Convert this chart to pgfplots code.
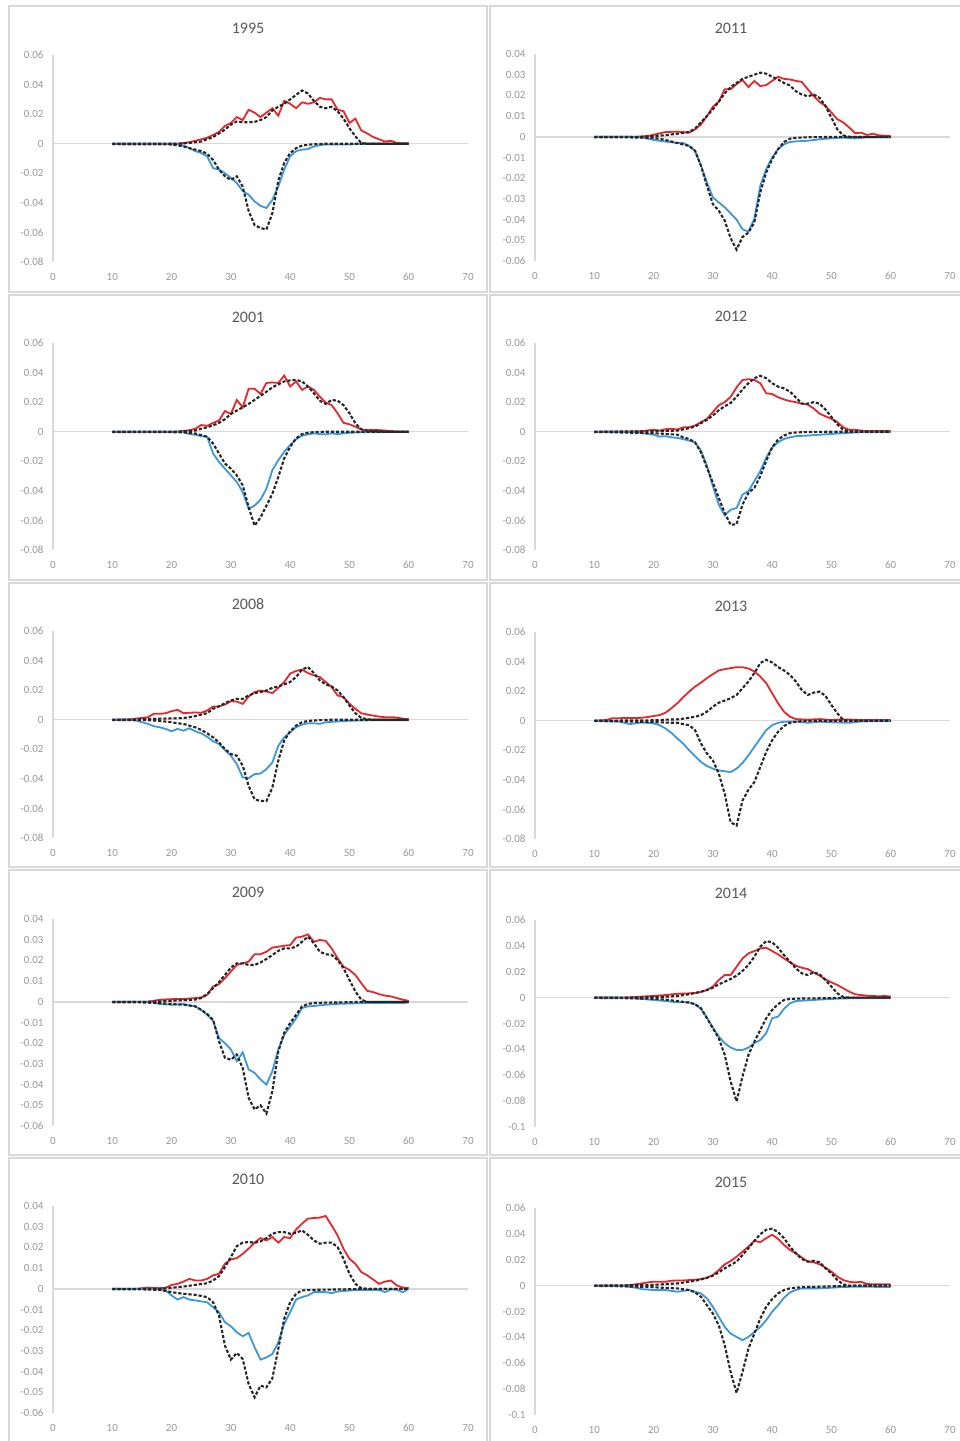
\documentclass[border=0pt]{standalone}
\usepackage{fontspec}
\setmainfont{Carlito}
\usepackage{pgfplots}
\pgfplotsset{compat=1.18}
\definecolor{redline}{HTML}{E5282C}
\definecolor{blueline}{HTML}{3C98DE}
\definecolor{axgray}{HTML}{D9D9D9}
\definecolor{ticklab}{HTML}{999999}
\definecolor{titlegray}{HTML}{595959}
\pgfplotsset{
  panel/.style={
    scale only axis, width=415pt, height=207pt, anchor=north west,
    xmin=0, xmax=70, xtick={0,10,20,30,40,50,60,70},
    axis x line*=bottom, axis y line*=left,
    x axis line style={draw=none},
    y axis line style={draw=axgray, line width=1.3pt},
    major tick length=0pt, tick style={draw=none},
    tick label style={font=\fontsize{11}{12}\selectfont, text=ticklab},
    scaled y ticks=false,
    yticklabel style={/pgf/number format/.cd, fixed, precision=2, assume math mode=true, /tikz/.cd, xshift=-6pt},
    xticklabel style={/pgf/number format/assume math mode=true, yshift=-8pt},
    clip=false,
  },
  ya/.style={ymin=-0.08, ymax=0.06, ytick={-0.08,-0.06,-0.04,-0.02,0,0.02,0.04,0.06}},
  yb/.style={ymin=-0.06, ymax=0.04, ytick={-0.06,-0.05,-0.04,-0.03,-0.02,-0.01,0,0.01,0.02,0.03,0.04}},
  yc/.style={ymin=-0.1, ymax=0.06, ytick={-0.1,-0.08,-0.06,-0.04,-0.02,0,0.02,0.04,0.06}},
  zl/.style={axgray, line width=1.4pt, forget plot},
  rl/.style={redline, line width=1.8pt},
  bl/.style={blueline, line width=1.8pt},
  dk/.style={black!85, line width=2.1pt, dash pattern=on 3.2pt off 1.9pt},
}
\tikzset{ttl/.style={font=\fontsize{16}{18}\selectfont, text=titlegray}}
\begin{document}
\begin{tikzpicture}
\useasboundingbox (0pt,0pt) rectangle (959pt,-1441pt);
\fill[white] (0pt,0pt) rectangle (959pt,-1441pt);
% panel frames
\foreach \t/\b in {6/292, 295/580, 583/867, 870/1155, 1158/1450}{
  \draw[axgray, line width=1.3pt] (9pt,-\t pt) rectangle (487pt,-\b pt);
  \draw[axgray, line width=1.3pt] (490pt,-\t pt) rectangle (965pt,-\b pt);
}
% titles
\node[ttl] at (248pt,-28pt) {1995};
\node[ttl] at (731pt,-28pt) {2011};
\node[ttl] at (248pt,-317pt) {2001};
\node[ttl] at (731pt,-316pt) {2012};
\node[ttl] at (248pt,-604pt) {2008};
\node[ttl] at (731pt,-606pt) {2013};
\node[ttl] at (248pt,-892pt) {2009};
\node[ttl] at (731pt,-893pt) {2014};
\node[ttl] at (248pt,-1179pt) {2010};
\node[ttl] at (731pt,-1182pt) {2015};

% ---------------- 1995
\begin{axis}[panel, ya, at={(53pt,-55pt)}]
\addplot[zl] coordinates {(0,0)(70,0)};
\addplot[rl] coordinates {(10,0)(21,0)(22,0.0005)(23,0.001)(24,0.002)(25,0.003)(26,0.004)(27,0.006)(28,0.008)(29,0.012)(30,0.014)(31,0.018)(32,0.016)(33,0.023)(34,0.021)(35,0.018)(36,0.021)(37,0.024)(38,0.019)(39,0.029)(40,0.027)(41,0.024)(42,0.028)(43,0.027)(44,0.028)(45,0.031)(46,0.030)(47,0.030)(48,0.023)(49,0.022)(50,0.014)(51,0.017)(52,0.009)(53,0.007)(54,0.0045)(55,0.003)(56,0.0015)(57,0.002)(58,0.0005)(59,0.0003)(60,0.0003)};
\addplot[bl] coordinates {(10,0)(21,0)(22,-0.0013)(23,-0.003)(24,-0.005)(25,-0.0063)(26,-0.0085)(27,-0.0165)(28,-0.0175)(29,-0.020)(30,-0.023)(31,-0.0265)(32,-0.032)(33,-0.0345)(34,-0.039)(35,-0.042)(36,-0.0435)(37,-0.038)(38,-0.029)(39,-0.0175)(40,-0.0085)(41,-0.005)(42,-0.004)(43,-0.0036)(44,-0.0018)(45,-0.001)(46,-0.0005)(50,-0.0005)(52,0)(60,0)};
\addplot[dk] coordinates {(10,0)(21,0)(23,0.0005)(25,0.0015)(26,0.003)(27,0.0045)(28,0.007)(29,0.0095)(30,0.013)(31,0.015)(32,0.0145)(33,0.0145)(34,0.0148)(35,0.016)(36,0.018)(37,0.0225)(38,0.025)(39,0.027)(40,0.030)(41,0.033)(42,0.036)(43,0.034)(44,0.029)(45,0.025)(46,0.024)(47,0.025)(48,0.022)(49,0.017)(50,0.0105)(51,0.005)(52,0.0005)(53,0)(60,0)};
\addplot[dk] coordinates {(10,-0.0003)(20,-0.0005)(22,-0.0018)(23,-0.003)(24,-0.004)(25,-0.005)(26,-0.0068)(27,-0.011)(28,-0.0175)(29,-0.022)(30,-0.0245)(31,-0.022)(32,-0.029)(33,-0.0455)(34,-0.055)(35,-0.057)(36,-0.058)(37,-0.047)(38,-0.025)(39,-0.013)(40,-0.0063)(41,-0.003)(42,-0.0013)(43,-0.0007)(44,-0.0003)(46,0)(60,0)};
\end{axis}

% ---------------- 2011
\begin{axis}[panel, yb, at={(535pt,-54pt)}]
\addplot[zl] coordinates {(0,0)(70,0)};
\addplot[rl] coordinates {(10,0)(17,0)(19,0.0004)(20,0.001)(22,0.0023)(24,0.0025)(26,0.002)(27,0.0036)(28,0.006)(29,0.010)(30,0.0145)(31,0.017)(32,0.023)(33,0.023)(34,0.0255)(35,0.0275)(36,0.024)(37,0.027)(38,0.0245)(39,0.025)(40,0.027)(41,0.029)(42,0.028)(43,0.0277)(44,0.027)(45,0.0265)(46,0.023)(47,0.0197)(48,0.0168)(49,0.015)(50,0.0117)(51,0.0085)(52,0.0069)(53,0.0045)(54,0.0017)(55,0.002)(56,0.0009)(57,0.0015)(58,0.0007)(59,0.0005)(60,0.0004)};
\addplot[bl] coordinates {(10,0)(16,0)(18,-0.0003)(20,-0.0015)(22,-0.0023)(24,-0.003)(25,-0.003)(26,-0.0044)(27,-0.0068)(28,-0.014)(29,-0.022)(30,-0.0293)(31,-0.0317)(32,-0.034)(33,-0.037)(34,-0.040)(35,-0.0447)(36,-0.0458)(37,-0.0396)(38,-0.0236)(39,-0.0156)(40,-0.010)(41,-0.006)(42,-0.0036)(43,-0.0025)(44,-0.0022)(46,-0.0019)(48,-0.0012)(50,-0.0007)(52,-0.0004)(54,-0.0008)(56,-0.0003)(60,-0.0003)};
\addplot[dk] coordinates {(10,0)(18,0)(20,0.0003)(22,0.0008)(24,0.0015)(26,0.0023)(27,0.004)(28,0.007)(29,0.010)(30,0.0133)(31,0.017)(32,0.021)(33,0.024)(34,0.026)(35,0.028)(36,0.029)(37,0.030)(38,0.031)(39,0.0305)(40,0.029)(41,0.0277)(42,0.026)(43,0.0248)(44,0.022)(45,0.0204)(46,0.0196)(47,0.0204)(48,0.0188)(49,0.0148)(50,0.0092)(51,0.0036)(52,0.0007)(53,0)(60,0)};
\addplot[dk] coordinates {(10,-0.0003)(16,-0.0003)(20,-0.0005)(22,-0.0015)(24,-0.003)(26,-0.0044)(27,-0.0068)(28,-0.014)(29,-0.0237)(30,-0.0325)(31,-0.0357)(32,-0.0405)(33,-0.049)(34,-0.0545)(35,-0.0484)(36,-0.0463)(37,-0.0413)(38,-0.0268)(39,-0.0172)(40,-0.0108)(41,-0.006)(42,-0.0025)(43,-0.0009)(44,-0.0005)(46,-0.0002)(52,0)(60,0)};
\end{axis}

% ---------------- 2001
\begin{axis}[panel, ya, at={(53pt,-343pt)}]
\addplot[zl] coordinates {(0,0)(70,0)};
\addplot[rl] coordinates {(10,0)(21,0)(22,0.0005)(23,0.001)(24,0.002)(25,0.0045)(26,0.004)(27,0.006)(28,0.0075)(29,0.014)(30,0.012)(31,0.0215)(32,0.0165)(33,0.029)(34,0.029)(35,0.0256)(36,0.033)(37,0.0333)(38,0.033)(39,0.038)(40,0.0306)(41,0.034)(42,0.0283)(43,0.0306)(44,0.0283)(45,0.0238)(46,0.0197)(47,0.018)(48,0.0125)(49,0.006)(50,0.005)(51,0.0034)(52,0.0016)(53,0.0011)(55,0.0011)(56,0.0008)(57,0.0004)(58,0)(60,0)};
\addplot[bl] coordinates {(10,0)(22,0)(23,-0.0016)(24,-0.002)(25,-0.003)(26,-0.0034)(27,-0.0147)(28,-0.0204)(29,-0.025)(30,-0.0295)(31,-0.034)(32,-0.0408)(33,-0.052)(34,-0.050)(35,-0.046)(36,-0.0385)(37,-0.026)(38,-0.0193)(39,-0.0136)(40,-0.009)(41,-0.0052)(42,-0.0027)(43,-0.0018)(44,-0.0011)(45,-0.0016)(46,-0.0018)(47,-0.0011)(48,-0.0016)(49,-0.0011)(50,-0.0007)(52,-0.0004)(55,-0.0004)(56,0)(60,0)};
\addplot[dk] coordinates {(10,0)(20,0)(22,0.0003)(24,0.0008)(25,0.002)(26,0.003)(27,0.0043)(28,0.006)(29,0.0085)(30,0.012)(31,0.0143)(32,0.0165)(33,0.0188)(34,0.0215)(35,0.0243)(36,0.027)(37,0.030)(38,0.032)(39,0.034)(40,0.0347)(41,0.035)(42,0.034)(43,0.0306)(44,0.026)(45,0.021)(46,0.0188)(47,0.0215)(48,0.021)(49,0.018)(50,0.0125)(51,0.0057)(52,0.0016)(53,0.0006)(55,0.0002)(56,0)(60,0)};
\addplot[dk] coordinates {(10,-0.0003)(20,-0.0003)(22,-0.0005)(24,-0.0012)(25,-0.0023)(26,-0.0034)(27,-0.008)(28,-0.0147)(29,-0.0215)(30,-0.025)(31,-0.0295)(32,-0.0363)(33,-0.051)(34,-0.0635)(35,-0.058)(36,-0.050)(37,-0.042)(38,-0.0306)(39,-0.018)(40,-0.0102)(41,-0.0045)(42,-0.0016)(43,-0.0007)(44,-0.0003)(46,0)(60,0)};
\end{axis}

% ---------------- 2012
\begin{axis}[panel, ya, at={(535pt,-343pt)}]
\addplot[zl] coordinates {(0,0)(70,0)};
\addplot[rl] coordinates {(10,0)(16,0.0002)(18,0.0004)(20,0.0013)(21,0.0008)(22,0.0017)(23,0.002)(24,0.0015)(25,0.003)(26,0.003)(27,0.0042)(28,0.0065)(29,0.0088)(30,0.0133)(31,0.0179)(32,0.020)(33,0.0236)(34,0.030)(35,0.035)(36,0.0355)(37,0.035)(38,0.0328)(39,0.026)(40,0.0255)(41,0.0233)(42,0.0218)(43,0.0207)(44,0.020)(45,0.019)(46,0.0184)(47,0.0157)(48,0.0122)(49,0.0104)(50,0.0088)(51,0.0065)(52,0.003)(53,0.0013)(54,0.0013)(55,0.0008)(56,0.0004)(60,0.0004)};
\addplot[bl] coordinates {(10,0)(17,-0.0003)(19,-0.0015)(20,-0.002)(21,-0.0033)(22,-0.003)(23,-0.0038)(24,-0.0042)(25,-0.005)(26,-0.006)(27,-0.0072)(28,-0.0128)(29,-0.023)(30,-0.0368)(31,-0.0493)(32,-0.0566)(33,-0.0527)(34,-0.0516)(35,-0.0425)(36,-0.0402)(37,-0.0334)(38,-0.0266)(39,-0.0175)(40,-0.0106)(41,-0.0072)(42,-0.0049)(43,-0.0038)(44,-0.003)(46,-0.0026)(48,-0.002)(50,-0.0015)(52,-0.001)(54,-0.0005)(56,-0.0003)(60,-0.0003)};
\addplot[dk] coordinates {(10,0)(20,0.0003)(22,0.0005)(24,0.0008)(26,0.0024)(27,0.0035)(28,0.0058)(29,0.008)(30,0.011)(31,0.0145)(32,0.0172)(33,0.0195)(34,0.0236)(35,0.0286)(36,0.0328)(37,0.0362)(38,0.0378)(39,0.0362)(40,0.0328)(41,0.0305)(42,0.0293)(43,0.0271)(44,0.0232)(45,0.019)(46,0.019)(47,0.020)(48,0.019)(49,0.015)(50,0.010)(51,0.005)(52,0.0013)(53,0.0004)(54,0)(60,0)};
\addplot[dk] coordinates {(10,-0.0003)(12,-0.0003)(20,-0.001)(22,-0.0015)(24,-0.002)(25,-0.0038)(26,-0.0049)(27,-0.0072)(28,-0.014)(29,-0.0243)(30,-0.0345)(31,-0.0448)(32,-0.055)(33,-0.063)(34,-0.0625)(35,-0.0493)(36,-0.0413)(37,-0.038)(38,-0.030)(39,-0.0197)(40,-0.0106)(41,-0.0053)(42,-0.0026)(43,-0.001)(44,-0.0005)(46,-0.0002)(50,0)(60,0)};
\end{axis}

% ---------------- 2008
\begin{axis}[panel, ya, at={(53pt,-631pt)}]
\addplot[zl] coordinates {(0,0)(70,0)};
\addplot[rl] coordinates {(10,0)(13,0.0003)(15,0.0012)(16,0.0017)(17,0.004)(18,0.004)(19,0.0044)(20,0.0058)(21,0.0067)(22,0.0044)(23,0.0047)(24,0.0049)(25,0.0047)(26,0.0062)(27,0.009)(28,0.009)(29,0.0103)(30,0.0125)(31,0.0123)(32,0.0107)(33,0.0157)(34,0.0187)(35,0.0198)(36,0.0191)(37,0.018)(38,0.0216)(39,0.0255)(40,0.0312)(41,0.033)(42,0.0339)(43,0.0316)(44,0.030)(45,0.0289)(46,0.0255)(47,0.0221)(48,0.0164)(49,0.0153)(50,0.0108)(51,0.0074)(52,0.0044)(53,0.0035)(54,0.0028)(55,0.0021)(56,0.0017)(57,0.0017)(58,0.0015)(59,0.0007)(60,0.0003)};
\addplot[bl] coordinates {(10,0)(13,0)(14,-0.0006)(15,-0.0017)(16,-0.0028)(17,-0.0044)(18,-0.0051)(19,-0.0062)(20,-0.0078)(21,-0.0062)(22,-0.0074)(23,-0.0058)(24,-0.0078)(25,-0.0092)(26,-0.0115)(27,-0.0146)(28,-0.0164)(29,-0.0205)(30,-0.0243)(31,-0.030)(32,-0.039)(33,-0.0395)(34,-0.0368)(35,-0.0364)(36,-0.0334)(37,-0.0289)(38,-0.0176)(39,-0.0119)(40,-0.0085)(41,-0.0051)(42,-0.0033)(43,-0.0024)(44,-0.0024)(45,-0.0028)(46,-0.0017)(48,-0.0012)(50,-0.0007)(52,-0.0005)(55,-0.0003)(60,-0.0003)};
\addplot[dk] coordinates {(10,0)(13,0)(15,0.0003)(17,0.0006)(19,0.0008)(21,0.001)(22,0.0012)(23,0.0017)(24,0.0024)(25,0.0035)(26,0.0044)(27,0.0074)(28,0.009)(29,0.0112)(30,0.013)(31,0.0141)(32,0.0141)(33,0.0164)(34,0.018)(35,0.0187)(36,0.0198)(37,0.0216)(38,0.0225)(39,0.0239)(40,0.0255)(41,0.0289)(42,0.0339)(43,0.0357)(44,0.0316)(45,0.0266)(46,0.0239)(47,0.0225)(48,0.0198)(49,0.0153)(50,0.0096)(51,0.0044)(52,0.0012)(53,0.0003)(54,0)(60,0)};
\addplot[dk] coordinates {(10,-0.0003)(16,-0.0003)(18,-0.0008)(20,-0.0017)(21,-0.0024)(22,-0.0028)(23,-0.004)(24,-0.0051)(25,-0.0069)(26,-0.0092)(27,-0.0119)(28,-0.0153)(29,-0.0198)(30,-0.0232)(31,-0.0243)(32,-0.0311)(33,-0.0447)(34,-0.0538)(35,-0.055)(36,-0.055)(37,-0.0459)(38,-0.0277)(39,-0.0141)(40,-0.0078)(41,-0.004)(42,-0.0017)(43,-0.0008)(45,-0.0003)(47,0)(60,0)};
\end{axis}

% ---------------- 2013
\begin{axis}[panel, ya, at={(535pt,-632pt)}]
\addplot[zl] coordinates {(0,0)(70,0)};
\addplot[rl] coordinates {(10,0)(12,0.0005)(13,0.0016)(15,0.0018)(17,0.0018)(18,0.002)(19,0.0025)(20,0.0032)(21,0.0038)(22,0.0054)(23,0.0084)(24,0.0118)(25,0.0159)(26,0.0197)(27,0.0231)(28,0.0258)(29,0.0288)(30,0.0315)(31,0.034)(32,0.0349)(33,0.0356)(34,0.0362)(35,0.0362)(36,0.0353)(37,0.0333)(38,0.0299)(39,0.0254)(40,0.0186)(41,0.0118)(42,0.0061)(43,0.0027)(44,0.0011)(46,0.0007)(48,0.0011)(50,0.0005)(52,0.0009)(55,0.0005)(60,0.0004)};
\addplot[bl] coordinates {(10,0)(14,-0.0004)(16,-0.0023)(18,-0.0012)(20,-0.0018)(21,-0.003)(22,-0.0052)(23,-0.0082)(24,-0.012)(25,-0.0154)(26,-0.02)(27,-0.024)(28,-0.0279)(29,-0.0306)(30,-0.0324)(31,-0.0336)(32,-0.0342)(33,-0.0347)(34,-0.0324)(35,-0.0286)(36,-0.0234)(37,-0.0177)(38,-0.012)(39,-0.0064)(40,-0.003)(41,-0.0014)(42,-0.0007)(44,-0.0005)(46,-0.0014)(48,-0.0007)(50,-0.0011)(53,-0.0014)(55,-0.0005)(60,-0.0002)};
\addplot[dk] coordinates {(10,0)(20,0.0003)(22,0.0007)(24,0.0009)(25,0.0014)(26,0.002)(27,0.0027)(28,0.0038)(29,0.0061)(30,0.0095)(31,0.0122)(32,0.0136)(33,0.0152)(34,0.0174)(35,0.022)(36,0.0265)(37,0.0322)(38,0.039)(39,0.0412)(40,0.0394)(41,0.0363)(42,0.034)(43,0.031)(44,0.0265)(45,0.0208)(46,0.0174)(47,0.019)(48,0.0197)(49,0.0168)(50,0.0106)(51,0.005)(52,0.0004)(53,0)(60,0)};
\addplot[dk] coordinates {(10,-0.0002)(15,-0.0005)(20,-0.0009)(23,-0.0014)(24,-0.0014)(25,-0.0023)(26,-0.003)(27,-0.0064)(28,-0.0154)(29,-0.0222)(30,-0.0268)(31,-0.0358)(32,-0.0494)(33,-0.0687)(34,-0.0709)(35,-0.054)(36,-0.0467)(37,-0.0415)(38,-0.0313)(39,-0.0211)(40,-0.0132)(41,-0.0075)(42,-0.0036)(43,-0.0014)(44,-0.0007)(45,-0.0003)(48,0)(60,0)};
\end{axis}

% ---------------- 2009
\begin{axis}[panel, yb, at={(53pt,-919pt)}]
\addplot[zl] coordinates {(0,0)(70,0)};
\addplot[rl] coordinates {(10,0)(16,0)(17,0.0005)(18,0.001)(20,0.0013)(22,0.0014)(24,0.0018)(25,0.0021)(26,0.0034)(27,0.0074)(28,0.0085)(29,0.0114)(30,0.0146)(31,0.0178)(32,0.0186)(33,0.0194)(34,0.023)(35,0.023)(36,0.0242)(37,0.0262)(38,0.0266)(39,0.0271)(40,0.0274)(41,0.031)(42,0.0315)(43,0.0326)(44,0.029)(45,0.0299)(46,0.0294)(47,0.0258)(48,0.021)(49,0.017)(50,0.0154)(51,0.013)(52,0.009)(53,0.0053)(54,0.0047)(55,0.0037)(56,0.003)(57,0.0026)(58,0.0018)(59,0.001)(60,0.0005)};
\addplot[bl] coordinates {(10,0)(16,0)(17,-0.0003)(18,-0.0011)(20,-0.0014)(22,-0.0011)(24,-0.0022)(25,-0.0039)(26,-0.0063)(27,-0.0091)(28,-0.0175)(29,-0.020)(30,-0.023)(31,-0.0287)(32,-0.0244)(33,-0.0327)(34,-0.0343)(35,-0.0375)(36,-0.040)(37,-0.0335)(38,-0.023)(39,-0.016)(40,-0.012)(41,-0.008)(42,-0.003)(43,-0.0022)(44,-0.002)(46,-0.0014)(48,-0.001)(50,-0.0008)(53,-0.0006)(56,-0.0005)(59,-0.0006)(60,-0.0003)};
\addplot[dk] coordinates {(10,0)(16,0)(18,0.0002)(20,0.0005)(22,0.0008)(24,0.0011)(25,0.0018)(26,0.0037)(27,0.0066)(28,0.0095)(29,0.013)(30,0.0165)(31,0.0186)(32,0.0186)(33,0.0178)(34,0.0178)(35,0.019)(36,0.0207)(37,0.0226)(38,0.0246)(39,0.0258)(40,0.0258)(41,0.0266)(42,0.029)(43,0.0315)(44,0.0283)(45,0.0242)(46,0.023)(47,0.0226)(48,0.0202)(49,0.0162)(50,0.0106)(51,0.005)(52,0.001)(53,0)(60,0)};
\addplot[dk] coordinates {(10,-0.0002)(15,-0.0003)(18,-0.0006)(20,-0.0011)(22,-0.0014)(24,-0.0022)(25,-0.0039)(26,-0.0059)(27,-0.0087)(28,-0.019)(29,-0.027)(30,-0.028)(31,-0.0255)(32,-0.032)(33,-0.0464)(34,-0.052)(35,-0.050)(36,-0.054)(37,-0.0432)(38,-0.024)(39,-0.015)(40,-0.0103)(41,-0.0063)(42,-0.0022)(43,-0.001)(44,-0.0006)(46,-0.0004)(50,-0.0002)(52,0)(60,0)};
\end{axis}

% ---------------- 2014
\begin{axis}[panel, yc, at={(535pt,-920pt)}]
\addplot[zl] coordinates {(0,0)(70,0)};
\addplot[rl] coordinates {(10,0)(14,0)(16,0.0003)(18,0.0008)(20,0.0013)(22,0.002)(24,0.003)(26,0.0033)(27,0.0036)(28,0.0044)(29,0.0059)(30,0.0085)(31,0.0136)(32,0.0175)(33,0.0175)(34,0.0239)(35,0.0303)(36,0.0342)(37,0.036)(38,0.038)(39,0.0386)(40,0.036)(41,0.0334)(42,0.0303)(43,0.0273)(44,0.0247)(45,0.0231)(46,0.0221)(47,0.0195)(48,0.017)(49,0.0141)(50,0.0118)(51,0.0098)(52,0.0072)(53,0.0046)(54,0.0026)(55,0.002)(56,0.0015)(57,0.0013)(58,0.001)(59,0.0013)(60,0.0008)};
\addplot[bl] coordinates {(10,0)(14,0)(16,-0.0003)(18,-0.001)(20,-0.0018)(22,-0.0026)(24,-0.0036)(26,-0.0036)(27,-0.0051)(28,-0.0087)(29,-0.0154)(30,-0.0231)(31,-0.0301)(32,-0.0352)(33,-0.0386)(34,-0.0404)(35,-0.0404)(36,-0.0386)(37,-0.0352)(38,-0.0327)(39,-0.0275)(40,-0.0159)(41,-0.0147)(42,-0.0087)(43,-0.0044)(44,-0.0026)(46,-0.0021)(48,-0.0015)(50,-0.001)(52,-0.0006)(55,-0.0004)(60,-0.0004)};
\addplot[dk] coordinates {(10,0)(16,0)(18,0.0002)(20,0.0004)(22,0.0007)(24,0.0013)(26,0.0026)(27,0.0036)(28,0.0046)(29,0.0059)(30,0.0077)(31,0.0103)(32,0.0123)(33,0.0144)(34,0.017)(35,0.0206)(36,0.0252)(37,0.0316)(38,0.0393)(39,0.0437)(40,0.0427)(41,0.0386)(42,0.0329)(43,0.0278)(44,0.0226)(45,0.0188)(46,0.0175)(47,0.0195)(48,0.018)(49,0.0136)(50,0.0085)(51,0.0033)(52,0.0005)(53,0)(60,0)};
\addplot[dk] coordinates {(10,-0.0002)(15,-0.0004)(20,-0.0009)(22,-0.0015)(24,-0.0026)(26,-0.0039)(27,-0.0051)(28,-0.0082)(29,-0.0159)(30,-0.0237)(31,-0.0314)(32,-0.0442)(33,-0.0648)(34,-0.0802)(35,-0.061)(36,-0.0442)(37,-0.034)(38,-0.025)(39,-0.0159)(40,-0.0095)(41,-0.0051)(42,-0.0018)(43,-0.001)(45,-0.0007)(48,-0.0005)(51,-0.0002)(53,0)(60,0)};
\end{axis}

% ---------------- 2010
\begin{axis}[panel, yb, at={(53pt,-1206pt)}]
\addplot[zl] coordinates {(0,0)(70,0)};
\addplot[rl] coordinates {(10,0)(14,0)(15,0.0003)(16,0.0006)(18,0.0003)(19,0.0005)(20,0.0019)(21,0.0024)(22,0.0035)(23,0.0048)(24,0.004)(25,0.004)(26,0.0048)(27,0.0065)(28,0.0073)(29,0.0121)(30,0.0142)(31,0.0148)(32,0.0169)(33,0.0194)(34,0.0223)(35,0.0245)(36,0.0234)(37,0.025)(38,0.0223)(39,0.025)(40,0.0245)(41,0.0287)(42,0.0315)(43,0.0339)(44,0.0342)(45,0.0344)(46,0.0352)(47,0.0306)(48,0.0258)(49,0.0194)(50,0.0145)(51,0.0121)(52,0.0081)(53,0.0065)(54,0.0045)(55,0.0024)(56,0.0035)(57,0.004)(58,0.0016)(59,0.0006)(60,0.0003)};
\addplot[bl] coordinates {(10,0)(18,-0.0002)(19,-0.0008)(20,-0.0032)(21,-0.0052)(22,-0.004)(23,-0.0052)(24,-0.0056)(25,-0.0061)(26,-0.0065)(27,-0.0089)(28,-0.0113)(29,-0.0161)(30,-0.0181)(31,-0.021)(32,-0.0229)(33,-0.0213)(34,-0.0282)(35,-0.0342)(36,-0.0331)(37,-0.0315)(38,-0.0258)(39,-0.0169)(40,-0.0113)(41,-0.0052)(42,-0.004)(43,-0.0032)(44,-0.0016)(45,-0.0016)(46,-0.0016)(47,-0.0021)(48,-0.0013)(50,-0.0008)(52,-0.0005)(55,-0.0005)(56,-0.0016)(57,-0.0003)(58,-0.0005)(59,-0.0016)(60,0)};
\addplot[dk] coordinates {(10,0)(18,0)(19,0.0002)(20,0.0005)(22,0.0011)(24,0.0019)(26,0.0027)(27,0.004)(28,0.0061)(29,0.0105)(30,0.0153)(31,0.0206)(32,0.0223)(33,0.0226)(34,0.0223)(35,0.0229)(36,0.0245)(37,0.0266)(38,0.0274)(39,0.0274)(40,0.0266)(41,0.0271)(42,0.0282)(43,0.0261)(44,0.0234)(45,0.0218)(46,0.0223)(47,0.0223)(48,0.0202)(49,0.0145)(50,0.0073)(51,0.0024)(52,0.0003)(53,0)(60,0)};
\addplot[dk] coordinates {(10,-0.0002)(14,-0.0002)(18,-0.0005)(20,-0.0016)(22,-0.0024)(24,-0.0029)(26,-0.004)(27,-0.0065)(28,-0.0129)(29,-0.0274)(30,-0.0342)(31,-0.031)(32,-0.0339)(33,-0.046)(34,-0.0524)(35,-0.0468)(36,-0.0476)(37,-0.0432)(38,-0.029)(39,-0.0145)(40,-0.0065)(41,-0.0024)(42,-0.0008)(44,-0.0005)(50,-0.0002)(53,0)(60,0)};
\end{axis}

% ---------------- 2015
\begin{axis}[panel, yc, at={(535pt,-1208pt)}]
\addplot[zl] coordinates {(0,0)(70,0)};
\addplot[rl] coordinates {(10,0)(14,0)(16,0.0004)(18,0.0017)(19,0.0025)(20,0.003)(22,0.003)(23,0.0038)(24,0.004)(25,0.004)(26,0.0043)(27,0.0046)(28,0.0051)(29,0.0061)(30,0.0082)(31,0.012)(32,0.0165)(33,0.019)(34,0.0224)(35,0.0263)(36,0.0302)(37,0.0346)(38,0.0336)(39,0.0367)(40,0.0393)(41,0.0362)(42,0.0315)(43,0.0276)(44,0.025)(45,0.0217)(46,0.0186)(47,0.0181)(48,0.0165)(49,0.0139)(50,0.0108)(51,0.007)(52,0.0043)(53,0.003)(54,0.0025)(55,0.003)(56,0.0012)(58,0.001)(60,0.001)};
\addplot[bl] coordinates {(10,0)(15,-0.0003)(17,-0.0016)(18,-0.0027)(20,-0.0034)(22,-0.0034)(24,-0.0047)(26,-0.0034)(28,-0.006)(29,-0.0099)(30,-0.0164)(31,-0.0241)(32,-0.0319)(33,-0.0371)(34,-0.0396)(35,-0.0422)(36,-0.0396)(37,-0.0358)(38,-0.0319)(39,-0.0267)(40,-0.0202)(41,-0.0151)(42,-0.0094)(43,-0.0052)(44,-0.0034)(45,-0.0021)(48,-0.0021)(50,-0.0016)(52,-0.001)(55,-0.0008)(60,-0.0011)};
\addplot[dk] coordinates {(10,0)(15,0.0002)(20,0.0006)(22,0.0012)(24,0.0017)(26,0.003)(27,0.0038)(28,0.0048)(29,0.0061)(30,0.0077)(31,0.0103)(32,0.0134)(33,0.016)(34,0.0186)(35,0.0237)(36,0.0289)(37,0.0346)(38,0.0398)(39,0.0432)(40,0.044)(41,0.0414)(42,0.0367)(43,0.0302)(44,0.025)(45,0.0206)(46,0.0186)(47,0.0191)(48,0.0181)(49,0.0134)(50,0.0095)(51,0.0043)(52,0.001)(53,0)(60,0)};
\addplot[dk] coordinates {(10,-0.0002)(15,-0.0005)(20,-0.0012)(22,-0.0018)(24,-0.0021)(26,-0.0034)(27,-0.0052)(28,-0.0086)(29,-0.0151)(30,-0.0215)(31,-0.0306)(32,-0.0461)(33,-0.0668)(34,-0.0829)(35,-0.0668)(36,-0.0487)(37,-0.0371)(38,-0.0254)(39,-0.0164)(40,-0.0104)(41,-0.006)(42,-0.0034)(43,-0.0021)(45,-0.0012)(48,-0.0008)(52,-0.0003)(54,0)(60,0)};
\end{axis}
\end{tikzpicture}
\end{document}
